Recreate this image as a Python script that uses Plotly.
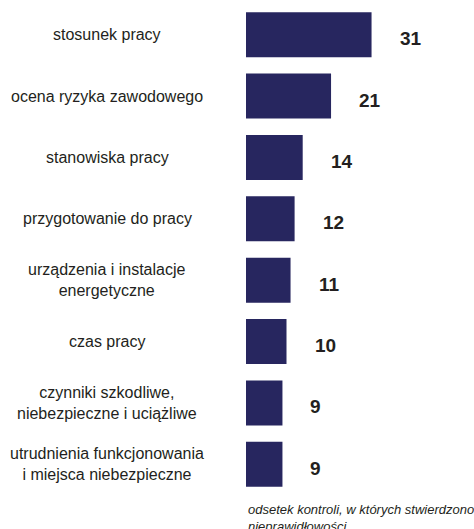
import plotly.graph_objects as go

categories = [
    "stosunek pracy",
    "ocena ryzyka zawodowego",
    "stanowiska pracy",
    "przygotowanie do pracy",
    "urządzenia i instalacje<br>energetyczne",
    "czas pracy",
    "czynniki szkodliwe,<br>niebezpieczne i uciążliwe",
    "utrudnienia funkcjonowania<br>i miejsca niebezpieczne",
]
values = [31, 21, 14, 12, 11, 10, 9, 9]
note = "odsetek kontroli, w których stwierdzono<br>nieprawidłowości"

W, H = 474, 529
ML, MR, MT, MB = 246, 0, 4, 34
BAR_COLOR = "#27265f"
TEXT_COLOR = "#231f20"
FONT = "Liberation Sans, Arial, Helvetica, sans-serif"

fig = go.Figure(
    go.Bar(
        x=values,
        y=categories,
        orientation="h",
        marker=dict(color=BAR_COLOR, line=dict(width=0)),
        hoverinfo="x+y",
    )
)

annotations = []
for c, v in zip(categories, values):
    annotations.append(dict(
        x=v, y=c, xref="x", yref="y", text=f"<b>{v}</b>",
        showarrow=False, xanchor="left", yanchor="middle",
        xshift=26, yshift=-4,
        font=dict(family=FONT, size=19, color=TEXT_COLOR),
    ))
    annotations.append(dict(
        x=(107 - ML) / (W - ML - MR), y=c, xref="paper", yref="y", text=c,
        showarrow=False, xanchor="center", yanchor="middle", align="center",
        font=dict(family=FONT, size=16, color=TEXT_COLOR),
    ))
annotations.append(dict(
    x=0, y=0, xref="paper", yref="paper", text=f"<i>{note}</i>",
    showarrow=False, xanchor="left", yanchor="top", align="left",
    yshift=-5,
    font=dict(family=FONT, size=13, color=TEXT_COLOR),
))

fig.update_layout(
    width=W, height=H,
    margin=dict(l=ML, r=MR, t=MT, b=MB, pad=0),
    paper_bgcolor="white", plot_bgcolor="white",
    bargap=0.267,
    showlegend=False,
    annotations=annotations,
    xaxis=dict(range=[0, (W - ML - MR) / 4.05], visible=False, fixedrange=True),
    yaxis=dict(autorange="reversed", showticklabels=False, showgrid=False,
               zeroline=False, showline=False, ticks="", fixedrange=True),
)

fig.write_html(
    "out.html",
    config={"displayModeBar": False},
    post_script="document.body.style.margin='0';document.body.style.overflow='hidden';",
)
